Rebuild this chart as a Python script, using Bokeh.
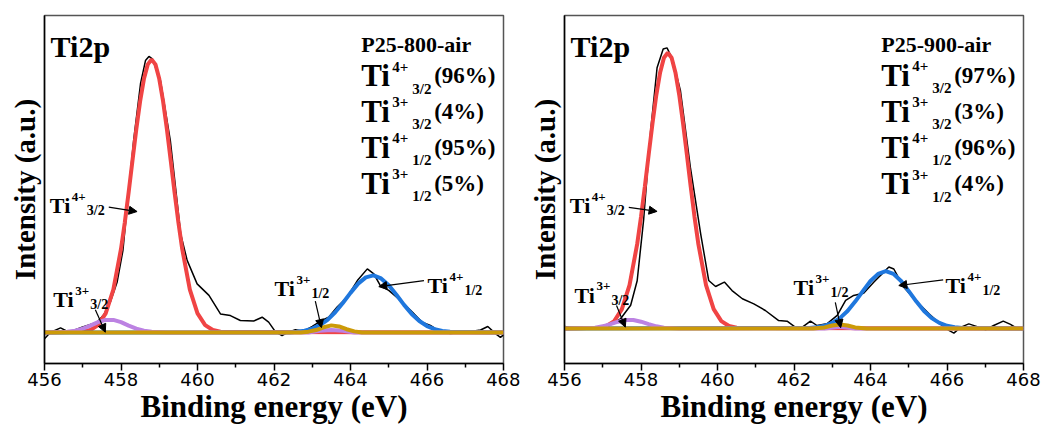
from bokeh.plotting import figure
from bokeh.layouts import row
from bokeh.models import FixedTicker, Arrow, NormalHead
from bokeh.core.properties import value
from bokeh.embed import file_html
from bokeh.resources import INLINE

# ---------------- data: left panel (P25-800-air) ----------------
left_raw_x = [456.00, 456.15, 456.42, 456.64, 456.98, 457.38, 457.55, 457.73, 457.90, 458.05, 458.16,
              458.33, 458.51, 458.64, 458.73, 458.82, 459.03, 459.29, 459.56, 459.73, 459.99, 460.30,
              460.60, 460.86, 461.12, 461.47, 461.69, 461.86, 462.04, 462.21, 462.39, 462.56, 462.78,
              463.00, 463.22, 463.43, 463.65, 463.91, 464.18, 464.44, 464.61, 464.78, 465.00, 465.26,
              465.57, 465.87, 466.09, 466.35, 466.61, 467.05, 467.40, 467.59, 467.79, 467.92, 468.00]
left_raw_y = [-2.3, 0.0, 1.7, 0.1, 1.9, 3.8, 6.5, 11.5, 18.5, 30.0, 45.9,
              70.3, 91.1, 99.6, 101.1, 100.2, 92.3, 70.3, 36.1, 26.4, 17.8, 13.6,
              6.8, 6.2, 4.4, 4.2, 5.6, 3.8, 0.2, -1.1, 0.2, 1.0, 0.5,
              2.2, 4.2, 5.6, 9.3, 12.9, 19.0, 23.3, 21.5, 17.2, 15.4, 12.3,
              8.1, 3.8, 2.6, 0.2, -0.4, 0.2, 0.9, 2.2, -0.4, -1.8, -0.9]

left_red_x = [456.0, 457.0, 457.2, 457.4, 457.6, 457.8, 458.0, 458.1, 458.2, 458.3, 458.4, 458.5,
              458.6, 458.7, 458.8, 458.9, 459.0, 459.1, 459.2, 459.3, 459.4, 459.5, 459.6, 459.8,
              460.0, 460.2, 460.4, 460.6, 468.0]
left_red_y = [0.0, 0.25, 0.9, 2.7, 7.0, 15.7, 30.6, 40.4, 51.4, 63.0, 74.4, 84.7,
              92.9, 98.2, 100.0, 98.2, 92.9, 84.7, 74.4, 63.0, 51.4, 40.4, 30.6, 15.7,
              7.0, 2.7, 0.9, 0.25, 0.0]

left_purple_x = [456.0, 456.6, 456.8, 457.0, 457.2, 457.4, 457.6, 457.8, 458.0, 458.2, 458.4, 458.6,
                 458.8, 459.2, 462.9, 463.2, 463.5, 463.8, 464.1, 468.0]
left_purple_y = [0.0, 0.24, 0.64, 1.4, 2.5, 3.8, 4.6, 4.6, 3.8, 2.5, 1.4, 0.64,
                 0.24, 0.0, 0.0, 0.6, 0.9, 0.6, 0.0, 0.0]

left_blue_x = [456.0, 462.4, 462.6, 462.8, 463.0, 463.2, 463.4, 463.6, 463.8, 464.0, 464.2, 464.4,
               464.6, 464.8, 465.0, 465.2, 465.4, 465.6, 465.8, 466.0, 466.2, 466.4, 466.6, 468.0]
left_blue_y = [0.0, 0.0, 0.3, 0.68, 1.41, 2.67, 4.64, 7.4, 10.8, 14.5, 17.9, 20.2,
               20.9, 19.8, 17.3, 13.8, 10.1, 6.8, 4.2, 2.36, 1.22, 0.58, 0.25, 0.0]

left_gold_x = [456.0, 462.7, 462.9, 463.1, 463.3, 463.5, 463.7, 463.9, 464.1, 464.3, 468.0]
left_gold_y = [0.0, 0.0, 0.3, 0.9, 1.9, 2.6, 2.2, 1.2, 0.4, 0.0, 0.0]

# ---------------- data: right panel (P25-900-air) ----------------
right_raw_x = [456.00, 456.24, 456.59, 456.94, 457.25, 457.46, 457.73, 457.90, 458.07, 458.25, 458.42,
               458.58, 458.68, 458.82, 459.03, 459.29, 459.56, 459.77, 459.95, 460.18, 460.38, 460.65,
               460.95, 461.25, 461.60, 461.82, 462.04, 462.21, 462.43, 462.60, 462.86, 463.13, 463.35,
               463.56, 463.82, 464.09, 464.30, 464.48, 464.61, 464.87, 465.18, 465.53, 465.87, 466.05,
               466.18, 466.35, 466.57, 466.79, 467.01, 467.22, 467.47, 467.66, 467.83, 468.00]
right_raw_y = [0.7, 0.2, 0.0, 0.7, 1.9, 3.5, 8.5, 17.5, 40.0, 72.0, 95.5,
               102.4, 102.8, 98.8, 87.2, 59.1, 34.7, 17.6, 15.4, 17.0, 13.9, 10.9,
               9.0, 6.6, 2.9, 2.7, 0.4, 0.4, 2.7, 1.1, 1.7, 4.8, 10.3,
               12.1, 12.9, 17.0, 20.0, 22.5, 21.8, 15.1, 10.3, 5.4, 1.1, -0.7,
               -1.7, 0.4, 1.7, 0.7, -0.5, 1.1, 2.7, 1.5, 0.0, 0.0]

right_red_x = [456.0, 456.9, 457.1, 457.3, 457.5, 457.7, 457.9, 458.0, 458.1, 458.2, 458.3, 458.4,
               458.5, 458.6, 458.7, 458.8, 458.9, 459.0, 459.1, 459.2, 459.3, 459.4, 459.5, 459.7,
               459.9, 460.1, 460.3, 460.5, 468.0]
right_red_y = [0.0, 0.25, 0.9, 2.7, 7.1, 15.9, 30.9, 40.8, 51.9, 63.6, 75.1, 85.5,
               93.8, 99.2, 101.0, 99.2, 93.8, 85.5, 75.1, 63.6, 51.9, 40.8, 30.9, 15.9,
               7.1, 2.7, 0.9, 0.25, 0.0]

right_purple_x = [456.0, 456.8, 457.0, 457.2, 457.4, 457.6, 457.8, 458.0, 458.2, 458.4, 458.6, 459.0,
                  462.8, 463.2, 463.6, 468.0]
right_purple_y = [0.0, 0.3, 0.8, 1.6, 2.5, 3.1, 3.1, 2.5, 1.6, 0.8, 0.3, 0.0,
                  0.0, 0.6, 0.0, 0.0]

right_blue_x = [456.0, 462.4, 462.6, 462.8, 463.0, 463.2, 463.4, 463.6, 463.8, 464.0, 464.2, 464.4,
                464.6, 464.8, 465.0, 465.2, 465.4, 465.6, 465.8, 466.0, 466.2, 466.4, 468.0]
right_blue_y = [0.0, 0.2, 0.46, 1.0, 2.06, 3.8, 6.4, 9.85, 13.7, 17.4, 20.0, 21.0,
                20.0, 17.4, 13.7, 9.85, 6.4, 3.8, 2.06, 1.0, 0.46, 0.2, 0.0]

right_gold_x = [456.0, 462.5, 462.8, 463.0, 463.2, 463.4, 463.6, 463.9, 468.0]
right_gold_y = [0.0, 0.0, 0.4, 1.1, 1.5, 1.1, 0.4, 0.0, 0.0]

# ---------------- texts ----------------
x_ticks = [456, 458, 460, 462, 464, 466, 468]
x_minor = [457, 459, 461, 463, 465, 467]
sample_names = ["P25-800-air", "P25-900-air"]
block_sups = ["4+", "3+", "4+", "3+"]
block_subs = ["3/2", "3/2", "1/2", "1/2"]
left_pcts = ["(96%)", "(4%)", "(95%)", "(5%)"]
right_pcts = ["(97%)", "(3%)", "(96%)", "(4%)"]
peak_sups = ["4+", "3+", "3+", "4+"]
peak_subs = ["3/2", "3/2", "1/2", "1/2"]

# annotation anchor positions (data units)
left_block_x = 464.28
left_block_title_y = 105.5
left_block_y = [94.1, 80.95, 67.8, 54.6]
right_block_x = 464.28
right_block_title_y = 104.0
right_block_y = [92.7, 79.5, 66.3, 53.1]
left_ti2p = (456.16, 104.8)
right_ti2p = (456.16, 103.3)
left_peak_x = [456.14, 456.23, 462.01, 466.01]
left_peak_y = [46.5, 12.0, 16.0, 17.2]
right_peak_x = [456.14, 456.26, 461.99, 465.96]
right_peak_y = [45.05, 12.1, 14.9, 15.75]
left_arrows = [(457.68, 45.9, 458.42, 44.3), (457.33, 8.3, 457.59, 0.1),
               (463.08, 11.5, 463.24, 1.8), (465.92, 19.0, 464.74, 16.8)]
right_arrows = [(457.68, 44.4, 458.42, 42.9), (457.36, 8.4, 457.59, 0.5),
                (463.08, 9.6, 463.22, 0.3), (465.90, 17.8, 464.74, 15.75)]

RED = "#F04444"
BLUE = "#1F77DD"
PURPLE = "#BC82E2"
GOLD = "#CC9A08"
SERIF = "Liberation Serif"


def txt(p, x, y, s, size, dx=0, dy=0):
    p.text(x=[x], y=[y], text=[s], text_font=value(SERIF), text_font_style="bold",
           text_font_size=value(size), text_color="black", text_align="left",
           text_baseline="alphabetic", x_offset=dx, y_offset=dy)


def make_panel(width, right_border, yr, raw, red, purple, blue, gold,
               name, block_x, title_y, block_y, pcts, ti2p, peak_x, peak_y, arrows):
    p = figure(width=width, height=426, x_range=(456, 468), y_range=yr,
               output_backend="svg", toolbar_location=None,
               min_border_left=44, min_border_right=right_border,
               min_border_top=15, min_border_bottom=63)
    p.grid.visible = False
    p.outline_line_color = "#555555"
    p.outline_line_width = 1.5
    p.background_fill_color = "white"
    p.border_fill_color = "white"

    xa = p.xaxis[0]
    xa.ticker = FixedTicker(ticks=x_ticks, minor_ticks=x_minor)
    xa.axis_line_width = 1.5
    xa.major_tick_line_width = 1.5
    xa.minor_tick_line_width = 1.5
    xa.major_tick_in = 0
    xa.major_tick_out = 7
    xa.minor_tick_in = 0
    xa.minor_tick_out = 4
    xa.major_label_text_font = "DejaVu Sans"
    xa.major_label_text_font_size = "18px"
    xa.major_label_text_color = "black"
    xa.major_label_standoff = 2
    xa.axis_label = "Binding energy (eV)"
    xa.axis_label_text_font = SERIF
    xa.axis_label_text_font_style = "bold"
    xa.axis_label_text_font_size = "31px"
    xa.axis_label_text_color = "black"
    xa.axis_label_standoff = 0

    ya = p.yaxis[0]
    ya.ticker = FixedTicker(ticks=[])
    ya.axis_line_width = 1.5
    ya.axis_label = "Intensity (a.u.)"
    ya.axis_label_text_font = SERIF
    ya.axis_label_text_font_style = "bold"
    ya.axis_label_text_font_size = "29px"
    ya.axis_label_text_color = "black"
    ya.axis_label_standoff = 4

    p.line(raw[0], raw[1], line_color="black", line_width=1.5)
    p.line(red[0], red[1], line_color=RED, line_width=4)
    p.line(blue[0], blue[1], line_color=BLUE, line_width=4)
    p.line(purple[0], purple[1], line_color=PURPLE, line_width=4)
    p.line(gold[0], gold[1], line_color=GOLD, line_width=4)

    # Ti2p label
    txt(p, ti2p[0], ti2p[1], "Ti2p", "30px")

    # top-right block
    txt(p, block_x, title_y, name, "22px")
    for yb, sp, sb, pc in zip(block_y, block_sups, block_subs, pcts):
        txt(p, block_x, yb, "Ti", "31px")
        txt(p, block_x, yb, sp, "15px", dx=31, dy=-9)
        txt(p, block_x, yb, sb, "15px", dx=51, dy=13)
        txt(p, block_x, yb, pc, "23px", dx=73)

    # peak labels
    for xp, yp, sp, sb in zip(peak_x, peak_y, peak_sups, peak_subs):
        txt(p, xp, yp, "Ti", "22px")
        txt(p, xp, yp, sp, "13px", dx=22, dy=-9)
        txt(p, xp, yp, sb, "14px", dx=37, dy=5)

    for (x0, y0, x1, y1) in arrows:
        p.add_layout(Arrow(end=NormalHead(size=8, fill_color="black", line_color="black"),
                           x_start=x0, y_start=y0, x_end=x1, y_end=y1,
                           line_color="black", line_width=1.2))
    return p


p1 = make_panel(520, 17, (-11.36, 116.1),
                (left_raw_x, left_raw_y), (left_red_x, left_red_y),
                (left_purple_x, left_purple_y), (left_blue_x, left_blue_y),
                (left_gold_x, left_gold_y),
                sample_names[0], left_block_x, left_block_title_y, left_block_y, left_pcts,
                left_ti2p, left_peak_x, left_peak_y, left_arrows)
p2 = make_panel(522, 19, (-12.82, 114.65),
                (right_raw_x, right_raw_y), (right_red_x, right_red_y),
                (right_purple_x, right_purple_y), (right_blue_x, right_blue_y),
                (right_gold_x, right_gold_y),
                sample_names[1], right_block_x, right_block_title_y, right_block_y, right_pcts,
                right_ti2p, right_peak_x, right_peak_y, right_arrows)

layout = row(p1, p2)
open("out.html", "w").write(file_html(layout, INLINE))
